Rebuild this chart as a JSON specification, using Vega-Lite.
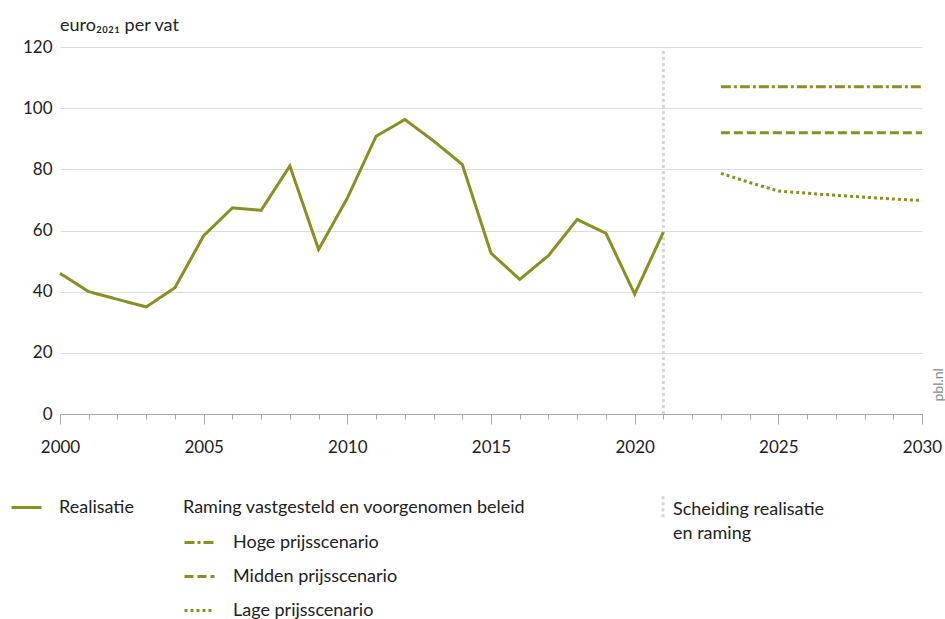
{
  "$schema": "https://vega.github.io/schema/vega-lite/v6.json",
  "width": 862,
  "height": 367,
  "autosize": {"type": "none"},
  "padding": {"left": 60, "top": 47, "right": 23, "bottom": 205},
  "background": "white",
  "title": {"text": "euro₂₀₂₁ per vat", "anchor": "start", "frame": "group", "offset": 17, "dy": 28, "baseline": "alphabetic", "font": "Lato", "fontSize": 18, "fontWeight": "normal", "color": "#222"},
  "datasets": {
    "realisatie": [
      {"jaar": 2000, "waarde": 46.0, "reeks": "Realisatie"},
      {"jaar": 2001, "waarde": 40.0, "reeks": "Realisatie"},
      {"jaar": 2002, "waarde": 37.5, "reeks": "Realisatie"},
      {"jaar": 2003, "waarde": 35.0, "reeks": "Realisatie"},
      {"jaar": 2004, "waarde": 41.3, "reeks": "Realisatie"},
      {"jaar": 2005, "waarde": 58.3, "reeks": "Realisatie"},
      {"jaar": 2006, "waarde": 67.4, "reeks": "Realisatie"},
      {"jaar": 2007, "waarde": 66.6, "reeks": "Realisatie"},
      {"jaar": 2008, "waarde": 81.1, "reeks": "Realisatie"},
      {"jaar": 2009, "waarde": 53.8, "reeks": "Realisatie"},
      {"jaar": 2010, "waarde": 70.6, "reeks": "Realisatie"},
      {"jaar": 2011, "waarde": 90.8, "reeks": "Realisatie"},
      {"jaar": 2012, "waarde": 96.3, "reeks": "Realisatie"},
      {"jaar": 2013, "waarde": 89.3, "reeks": "Realisatie"},
      {"jaar": 2014, "waarde": 81.6, "reeks": "Realisatie"},
      {"jaar": 2015, "waarde": 52.6, "reeks": "Realisatie"},
      {"jaar": 2016, "waarde": 44.0, "reeks": "Realisatie"},
      {"jaar": 2017, "waarde": 51.8, "reeks": "Realisatie"},
      {"jaar": 2018, "waarde": 63.6, "reeks": "Realisatie"},
      {"jaar": 2019, "waarde": 59.1, "reeks": "Realisatie"},
      {"jaar": 2020, "waarde": 39.2, "reeks": "Realisatie"},
      {"jaar": 2021, "waarde": 59.5, "reeks": "Realisatie"}
    ],
    "raming": [
      {"jaar": 2023, "waarde": 107, "scenario": "Hoge prijsscenario"},
      {"jaar": 2030, "waarde": 107, "scenario": "Hoge prijsscenario"},
      {"jaar": 2023, "waarde": 92, "scenario": "Midden prijsscenario"},
      {"jaar": 2030, "waarde": 92, "scenario": "Midden prijsscenario"},
      {"jaar": 2023, "waarde": 78.7, "scenario": "Lage prijsscenario"},
      {"jaar": 2024, "waarde": 75.7, "scenario": "Lage prijsscenario"},
      {"jaar": 2025, "waarde": 72.9, "scenario": "Lage prijsscenario"},
      {"jaar": 2026, "waarde": 72.2, "scenario": "Lage prijsscenario"},
      {"jaar": 2027, "waarde": 71.5, "scenario": "Lage prijsscenario"},
      {"jaar": 2028, "waarde": 70.9, "scenario": "Lage prijsscenario"},
      {"jaar": 2029, "waarde": 70.3, "scenario": "Lage prijsscenario"},
      {"jaar": 2030, "waarde": 69.8, "scenario": "Lage prijsscenario"}
    ],
    "scheiding": [
      {"jaar": 2021, "label": "Scheiding realisatie en raming"}
    ]
  },
  "layer": [
    {
      "data": {"name": "scheiding"},
      "mark": {"type": "rule", "color": "#d6d6d6", "strokeWidth": 3, "strokeCap": "butt"},
      "encoding": {
        "x": {"field": "jaar", "type": "quantitative", "scale": {"domain": [2000, 2030], "nice": false, "zero": false}, "axis": null},
        "y": {"datum": 0, "type": "quantitative", "scale": {"domain": [0, 120], "nice": false}, "axis": null},
        "y2": {"datum": 120},
        "strokeDash": {
          "field": "label", "type": "nominal",
          "scale": {"domain": ["Scheiding realisatie en raming"], "range": [[3, 3]]},
          "legend": {"title": null, "legendX": 590, "legendY": 450, "symbolType": "M0,-1.2L0,0.8", "symbolSize": 529, "symbolStrokeColor": "#d6d6d6", "labelOffset": -3, "labelExpr": "['Scheiding realisatie', 'en raming']"}
        }
      }
    },
    {
      "data": {"name": "realisatie"},
      "mark": {"type": "line", "color": "#8b8f22", "strokeWidth": 3, "strokeJoin": "miter"},
      "encoding": {
        "x": {
          "field": "jaar", "type": "quantitative",
          "scale": {"domain": [2000, 2030], "nice": false, "zero": false},
          "axis": {
            "orient": "bottom",
            "title": null,
            "values": [2000, 2005, 2010, 2015, 2020, 2025, 2030],
            "format": "d",
            "tickSize": 10,
            "grid": false,
            "labelPadding": 15,
            "labelFlush": false,
            "labelOverlap": false
          }
        },
        "y": {
          "field": "waarde", "type": "quantitative",
          "scale": {"domain": [0, 120], "nice": false},
          "axis": {"title": null, "values": [0, 20, 40, 60, 80, 100, 120], "domain": false, "ticks": false, "grid": true, "labelPadding": 8}
        },
        "strokeDash": {
          "field": "reeks", "type": "nominal",
          "scale": {"domain": ["Realisatie"], "range": [[1, 0]]},
          "legend": {"title": null, "legendX": -50, "legendY": 444, "symbolStrokeColor": "#8b8f22"}
        }
      }
    },
    {
      "data": {"name": "raming"},
      "mark": {"type": "line", "color": "#8b8f22", "strokeWidth": 3, "strokeCap": "butt"},
      "encoding": {
        "x": {
          "field": "jaar", "type": "quantitative",
          "scale": {"domain": [2000, 2030], "nice": false, "zero": false},
          "axis": {
            "orient": "bottom",
            "title": null,
            "values": [2000, 2001, 2002, 2003, 2004, 2005, 2006, 2007, 2008, 2009, 2010, 2011, 2012, 2013, 2014, 2015, 2016, 2017, 2018, 2019, 2020, 2021, 2022, 2023, 2024, 2025, 2026, 2027, 2028, 2029, 2030],
            "tickSize": 5,
            "labels": false,
            "domain": false,
            "grid": false,
            "offset": 0
          }
        },
        "y": {
          "field": "waarde", "type": "quantitative",
          "scale": {"domain": [0, 120], "nice": false},
          "axis": {"orient": "right", "title": "pbl.nl", "labels": false, "ticks": false, "domain": false, "grid": false, "titleAngle": 270, "titleAlign": "left", "titleBaseline": "middle", "titleX": 16, "titleY": 354, "titleFont": "Lato", "titleFontSize": 14, "titleFontWeight": "normal", "titleColor": "#8a8a8a"}
        },
        "strokeDash": {
          "field": "scenario", "type": "nominal",
          "scale": {"domain": ["Hoge prijsscenario", "Midden prijsscenario", "Lage prijsscenario"], "range": [[10, 3, 3, 3], [9, 4], [3, 3]]},
          "legend": {"title": "Raming vastgesteld en voorgenomen beleid", "legendX": 123, "legendY": 452, "symbolStrokeColor": "#8b8f22", "titlePadding": 9, "labelOffset": 17}
        }
      }
    }
  ],
  "resolve": {"scale": {"strokeDash": "independent"}, "axis": {"y": "independent", "x": "independent"}},
  "config": {
    "view": {"stroke": null},
    "style": {"guide-label": {"lineHeight": 24}},
    "axis": {"labelFont": "Lato", "labelFontSize": 17, "labelColor": "#222", "domainColor": "#aaaaaa", "tickColor": "#aaaaaa", "gridColor": "#dcdcdc", "gridWidth": 1.2},
    "legend": {
      "orient": "none", "padding": 0, "rowPadding": 8, "symbolType": "stroke", "symbolSize": 900, "symbolStrokeWidth": 3,
      "labelFont": "Lato", "labelFontSize": 18, "labelColor": "#222", "labelOffset": 16, "labelLimit": 600,
      "titleFont": "Lato", "titleFontSize": 18, "titleFontWeight": "normal", "titleColor": "#222", "titleLimit": 600, "direction": "vertical"
    }
  }
}
